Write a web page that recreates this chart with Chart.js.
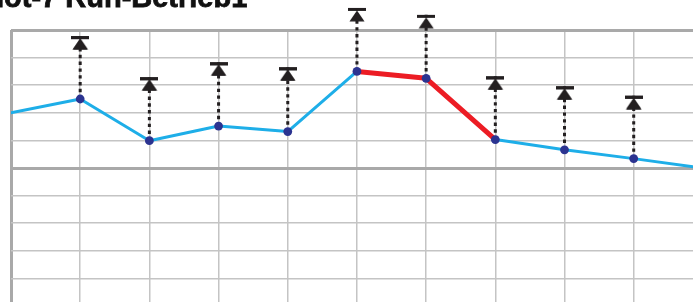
<!DOCTYPE html>
<html>
<head>
<meta charset="utf-8">
<script src="https://cdn.jsdelivr.net/npm/chart.js@4/dist/chart.umd.min.js"></script>
<style>
  html, body { margin: 0; padding: 0; background: #ffffff; overflow: hidden; }
  #wrap { position: relative; width: 693px; height: 302px; overflow: hidden; }
  #title {
    position: absolute; left: -33px; top: -17px; white-space: nowrap;
    font-family: "Liberation Sans", Arial, sans-serif; font-weight: bold;
    font-size: 29px; line-height: 29px; color: #111;
    -webkit-text-stroke: 0.8px #111; z-index: 2;
  }
  #c { position: absolute; left: 0; top: 0; }
</style>
</head>
<body>
<div id="wrap">
  <div id="title"></div>
  <canvas id="c" width="693" height="302" style="width:693px;height:302px"></canvas>
</div>
<script>
// ---- data ----
const titleText = "Shot-7 Run-Betrieb1";
const positions = [0, 1, 2, 3, 4, 5, 6, 7, 8, 9, 10];
const runValues = [2.0, 2.5, 0.99, 1.52, 1.32, 3.5, 3.25, 1.03, 0.66, 0.34, 0.0];
const capValues = [null, 4.78, 3.29, 3.83, 3.65, 5.80, 5.55, 3.32, 2.96, 2.62, null];
const markerShown = [false, true, true, true, true, true, true, true, true, true, false];
const highlightStart = 5;   // red segment from this index ...
const highlightEnd = 7;     // ... up to this index
const yGridValues = [-4, -3, -2, -1, 0, 1, 2, 3, 4, 5];
const xGridValues = [0, 1, 2, 3, 4, 5, 6, 7, 8, 9];

document.getElementById('title').textContent = titleText;

// ---- styles ----
const BLUE = '#1eaee8';
const RED = '#ec1c24';
const NAVY = '#2b3390';
const GRID_LIGHT = '#c4c4c4';
const GRID_DARK = '#a9a9a9';

// cap symbol (bar + upward triangle); image centred on the data point,
// drawing placed in the lower half so the bar top sits on the value
function makeCap() {
  const w = 18, h = 28;
  const c = document.createElement('canvas');
  c.width = w; c.height = h;
  const g = c.getContext('2d');
  g.fillStyle = '#231f20';
  g.fillRect(0, 14, 18, 3);
  g.beginPath();
  g.moveTo(9, 16.5);
  g.lineTo(16.5, 27.5);
  g.lineTo(1.5, 27.5);
  g.closePath();
  g.fill();
  return c;
}
const capImg = makeCap();

const runData = positions.map((x, i) => ({ x: x, y: runValues[i] }));
const capData = [];
const stemData = [];
positions.forEach((x, i) => {
  if (capValues[i] === null) return;
  capData.push({ x: x, y: capValues[i] });
  stemData.push({ x: x, y: runValues[i] });
  stemData.push({ x: x, y: capValues[i] });
  stemData.push({ x: x, y: null });
});

const inHighlight = ctx => ctx.p0DataIndex >= highlightStart && ctx.p0DataIndex < highlightEnd;

// draw the cap symbols even where they sit above the plot area
const capsOutside = {
  id: 'capsOutside',
  afterDatasetsDraw(chart) {
    const meta = chart.getDatasetMeta(1);
    const ctx = chart.ctx;
    ctx.save();
    meta.data.forEach(pt => pt.draw(ctx));
    ctx.restore();
  }
};

new Chart(document.getElementById('c'), {
  type: 'line',
  plugins: [capsOutside],
  data: {
    datasets: [
      {
        label: 'run',
        data: runData,
        borderColor: BLUE,
        borderWidth: 3,
        segment: {
          borderColor: ctx => inHighlight(ctx) ? RED : BLUE,
          borderWidth: ctx => inHighlight(ctx) ? 5 : 3
        },
        pointRadius: runData.map((p, i) => markerShown[i] ? 4.4 : 0),
        pointBackgroundColor: NAVY,
        pointBorderColor: NAVY,
        pointBorderWidth: 0,
        tension: 0,
        borderJoinStyle: 'round',
        borderCapStyle: 'round'
      },
      {
        label: 'cap',
        data: capData,
        showLine: false,
        pointStyle: capImg,
        pointRadius: 9,
        clip: false
      },
      {
        label: 'stem',
        data: stemData,
        borderColor: '#231f20',
        borderWidth: 3,
        borderDash: [3.4, 3.4],
        borderCapStyle: 'butt',
        pointRadius: 0,
        spanGaps: false,
        clip: false
      }
    ]
  },
  options: {
    responsive: false,
    animation: false,
    devicePixelRatio: 1,
    events: [],
    layout: { autoPadding: false, padding: { left: 11, top: 30, right: 0, bottom: 0 } },
    plugins: { legend: { display: false }, tooltip: { enabled: false }, title: { display: false } },
    scales: {
      x: {
        type: 'linear',
        min: 0,
        max: 9.857,
        afterBuildTicks: s => { s.ticks = xGridValues.map(v => ({ value: v })); },
        afterFit: s => { s.height = 0; },
        ticks: { display: false },
        border: { display: false },
        grid: {
          drawTicks: false,
          color: ctx => ctx.tick && ctx.tick.value === 0 ? GRID_DARK : GRID_LIGHT,
          lineWidth: ctx => ctx.tick && ctx.tick.value === 0 ? 3 : 1.5
        }
      },
      y: {
        type: 'linear',
        min: -4.855,
        max: 5,
        afterBuildTicks: s => { s.ticks = yGridValues.map(v => ({ value: v })); },
        afterFit: s => { s.width = 0; },
        ticks: { display: false },
        border: { display: false },
        grid: {
          drawTicks: false,
          color: ctx => ctx.tick && (ctx.tick.value === 0 || ctx.tick.value === 5) ? GRID_DARK : GRID_LIGHT,
          lineWidth: ctx => ctx.tick && (ctx.tick.value === 0 || ctx.tick.value === 5) ? 3 : 1.5
        }
      }
    }
  }
});
</script>
</body>
</html>
